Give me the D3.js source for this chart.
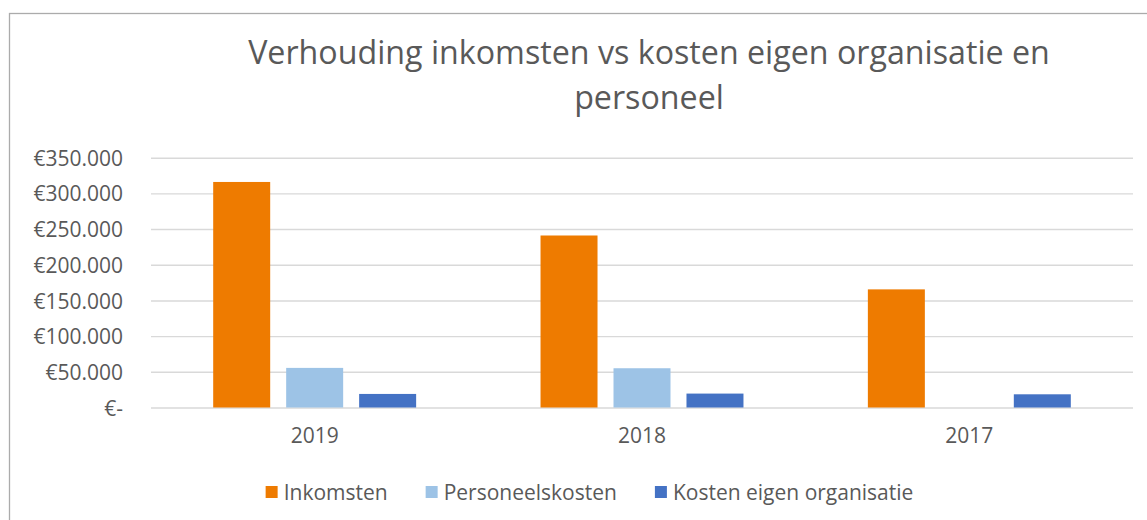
<!DOCTYPE html>
<html>
<head>
<meta charset="utf-8">
<script src="https://cdn.jsdelivr.net/npm/d3@7"></script>
<style>
    body { margin: 0; background: #fff; }
    svg text { font-family: "Open Sans", "Liberation Sans", sans-serif; fill: #595959; }
</style>
</head>
<body>
<svg id="chart" width="1147" height="520"></svg>
<script>
// chart data
const years = ["2019", "2018", "2017"];
const seriesNames = ["Inkomsten", "Personeelskosten", "Kosten eigen organisatie"];
const inkomsten = [316000, 241000, 165500];
const personeelskosten = [55500, 55000, 0];
const kostenEigenOrg = [19000, 19500, 18500];
const yTicks = [0, 50000, 100000, 150000, 200000, 250000, 300000, 350000];
const titleLines = ["Verhouding inkomsten vs kosten eigen organisatie en", "personeel"];

const colors = ["#ee7b00", "#9dc3e6", "#4472c4"];
const seriesValues = [inkomsten, personeelskosten, kostenEigenOrg];

const svg = d3.select("#chart");

// outer chart frame (right/bottom edges fall outside the picture)
svg.append("rect")
    .attr("x", 9.5).attr("y", 13.5)
    .attr("width", 1300).attr("height", 700)
    .attr("fill", "none")
    .attr("stroke", "#ababab")
    .attr("stroke-width", 1.3);

// title, scaled so the first line spans the same width as the reference
const title = svg.append("g");
const line1 = title.append("text")
    .attr("x", 649).attr("y", 64)
    .attr("text-anchor", "middle")
    .style("font-size", "30px")
    .text(titleLines[0]);
const fit = 30 * 802 / line1.node().getComputedTextLength();
line1.style("font-size", fit + "px");
title.append("text")
    .attr("x", 649).attr("y", 109)
    .attr("text-anchor", "middle")
    .style("font-size", fit + "px")
    .text(titleLines[1]);

// scales
const plot = { left: 151, right: 1133, top: 157.7, bottom: 407.5 };

const x0 = d3.scaleBand()
    .domain(years)
    .range([plot.left, plot.right])
    .paddingInner(0.38)
    .paddingOuter(0.19);

const x1 = d3.scaleBand()
    .domain(d3.range(seriesNames.length))
    .range([0, x0.bandwidth()])
    .paddingInner(0.219)
    .paddingOuter(0);

const y = d3.scaleLinear()
    .domain([0, 350000])
    .range([plot.bottom, plot.top]);

const nl = d3.formatLocale({ decimal: ",", thousands: ".", grouping: [3], currency: ["€", ""] });
const fmt = v => v === 0 ? "€-" : "€" + nl.format(",")(v);

// gridlines + y labels
const yAxis = svg.append("g")
    .attr("transform", `translate(${plot.left},0)`)
    .call(d3.axisLeft(y)
        .tickValues(yTicks)
        .tickFormat(fmt)
        .tickSize(-(plot.right - plot.left))
        .tickPadding(28));
yAxis.select(".domain").remove();
yAxis.selectAll(".tick line")
    .attr("stroke", "#d9d9d9")
    .attr("stroke-width", 1.4);
yAxis.selectAll(".tick text")
    .style("font-size", "21px")
    .style("font-family", "'Open Sans', sans-serif")
    .attr("fill", "#595959")
    .attr("dy", "0.36em");

// x labels
const xAxis = svg.append("g")
    .attr("transform", `translate(0,${plot.bottom})`)
    .call(d3.axisBottom(x0).tickSize(0).tickPadding(21));
xAxis.select(".domain").remove();
xAxis.selectAll(".tick text")
    .style("font-size", "21px")
    .style("font-family", "'Open Sans', sans-serif")
    .attr("fill", "#595959");

// bars
const groups = svg.append("g").selectAll("g")
    .data(years)
    .join("g")
    .attr("transform", d => `translate(${x0(d)},0)`);

groups.selectAll("rect")
    .data((d, i) => seriesValues.map((s, k) => ({ k, value: s[i] })))
    .join("rect")
    .attr("x", d => x1(d.k))
    .attr("y", d => y(d.value))
    .attr("width", x1.bandwidth())
    .attr("height", d => y(0) - y(d.value))
    .attr("fill", d => colors[d.k]);

// legend, centred under the plot
const legend = svg.append("g").attr("transform", "translate(0,492)");
const items = legend.selectAll("g")
    .data(seriesNames)
    .join("g");
items.append("rect")
    .attr("x", 0).attr("y", -6)
    .attr("width", 12).attr("height", 12)
    .attr("fill", (d, i) => colors[i]);
items.append("text")
    .attr("x", 18).attr("y", 0)
    .attr("dy", "0.36em")
    .style("font-size", "21px")
    .text(d => d);

let offset = 0;
const widths = [];
items.each(function () {
    widths.push(this.getBBox().width);
});
const gap = 38;
const total = d3.sum(widths) + gap * (widths.length - 1);
offset = 589.5 - total / 2;
items.attr("transform", (d, i) => {
    const t = `translate(${offset},0)`;
    offset += widths[i] + gap;
    return t;
});
</script>
</body>
</html>
